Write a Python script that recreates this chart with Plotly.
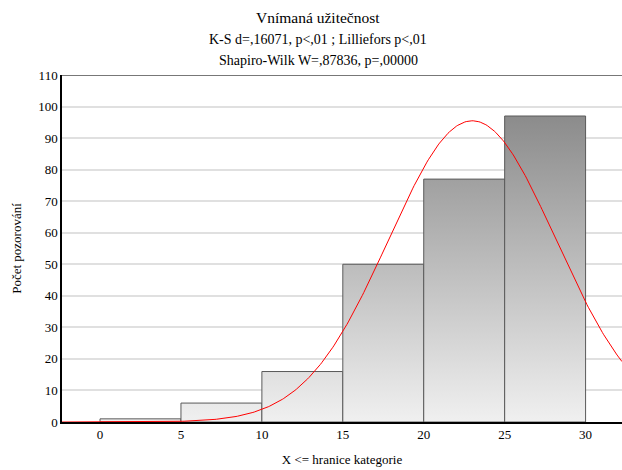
import numpy as np
import plotly.graph_objects as go

# ---- data ----
bin_lo = [0, 5, 10, 15, 20, 25]
bin_hi = [5, 10, 15, 20, 25, 30]
counts = [1, 6, 16, 50, 77, 97]
x_ticks = [0, 5, 10, 15, 20, 25, 30]
y_ticks = [0, 10, 20, 30, 40, 50, 60, 70, 80, 90, 100, 110]
title_lines = ["Vnímaná užitečnost",
               "K-S d=,16071, p<,01 ; Lilliefors p<,01",
               "Shapiro-Wilk W=,87836, p=,00000"]
# fitted normal parameters (expected frequency curve)
fit_mean = 23.0
fit_sd = 5.16
bin_width = 5

FONT = "Liberation Serif, Times New Roman, serif"
fig = go.Figure()

for lo, hi, c in zip(bin_lo, bin_hi, counts):
    fig.add_trace(go.Scatter(
        x=[lo, lo, hi, hi, lo], y=[0, c, c, 0, 0],
        mode="lines", fill="toself",
        line=dict(color="#5a5a5a", width=1),
        fillgradient=dict(type="vertical", start=0, stop=110,
                          colorscale=[[0, "#f0f0f0"], [1, "#7e7e7e"]]),
        hoverinfo="skip", showlegend=False))

n_total = sum(counts)
xr = [-2.35, 32.25]
xc = np.linspace(xr[0], xr[1], 400)
yc = n_total * bin_width / (fit_sd * np.sqrt(2 * np.pi)) * np.exp(-0.5 * ((xc - fit_mean) / fit_sd) ** 2)
fig.add_trace(go.Scatter(x=xc, y=yc, mode="lines",
                         line=dict(color="#ff0000", width=1),
                         showlegend=False, hoverinfo="skip"))

fig.add_shape(type="line", xref="paper", yref="y", x0=0, x1=1, y0=110, y1=110,
              line=dict(color="#4a4a4a", width=1.5))

title_y = [1.167, 1.101, 1.043]
title_sizes = [15.5, 14, 14]
for txt, ty, ts in zip(title_lines, title_y, title_sizes):
    fig.add_annotation(text=txt, xref="paper", yref="paper", x=0.458, y=ty,
                       xanchor="center", yanchor="middle", showarrow=False,
                       font=dict(family=FONT, size=ts, color="black"))

fig.update_layout(
    width=622, height=470,
    margin=dict(l=62, r=0, t=75, b=48),
    paper_bgcolor="white", plot_bgcolor="white",
    font=dict(family=FONT, size=13, color="black"),
    xaxis=dict(range=xr, tickvals=x_ticks, showgrid=False, zeroline=False,
               showline=True, linecolor="black", linewidth=1.5, ticks="",
               title=dict(text="X <= hranice kategorie", font=dict(size=13), standoff=14),
               fixedrange=True),
    yaxis=dict(range=[0, 110], tickvals=y_ticks, showgrid=True, gridcolor="#e0e0e0",
               gridwidth=1.5, zeroline=False, showline=True, linecolor="black",
               linewidth=1.5, ticks="",
               title=dict(text="Počet pozorování", font=dict(size=13), standoff=14)),
)

fig.write_html("out.html")
